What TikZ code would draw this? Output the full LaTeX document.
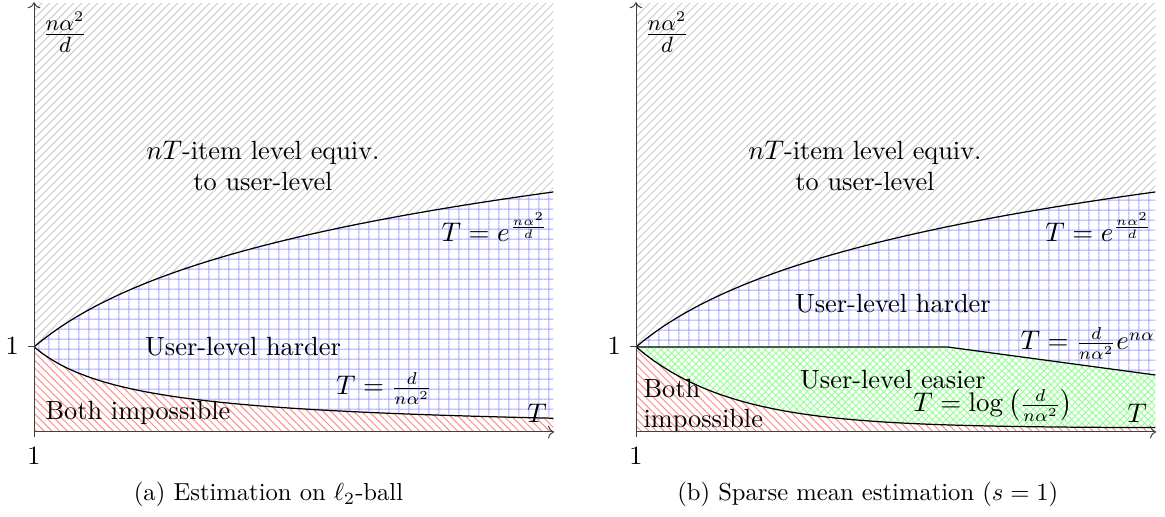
\documentclass[tikz,border=0pt]{standalone}
\usepackage{amsmath,amssymb}
\usetikzlibrary{arrows.meta,patterns.meta,positioning}

\tikzset{
  lbl/.style={inner sep=0pt,font=\fontsize{10.7}{12.3}\selectfont},
  subcap/.style={inner sep=0pt,anchor=base,font=\fontsize{10}{12}\selectfont},
  axis/.style={->,black!75,line width=0.4pt},
  bnd/.style={black,line width=0.5pt},
  equivfill/.style={pattern={Lines[angle=45,distance=2.3pt,line width=0.4pt]},pattern color=gray!40},
  hardfill/.style={pattern={Hatch[angle=0,distance=4pt,line width=0.4pt]},pattern color=blue!35},
  easyfill/.style={pattern={Hatch[angle=45,distance=2pt,line width=0.4pt]},pattern color=green!40},
  impfill/.style={pattern={Lines[angle=-45,distance=2.2pt,line width=0.4pt]},pattern color=red!45}
}

\begin{document}
\begin{tikzpicture}[>=To]
  \useasboundingbox (-0.486,-1.214) rectangle (16.157,6.171);
  % what both panels share
  \foreach \sh/\pn in {0/a,8.6/b} {
    \begin{scope}[xshift=\sh cm]
      \coordinate (o\pn) at (0,0);
      \coordinate (one\pn) at (0,1.215);
      \coordinate (xend\pn) at (7.43,0);
      \coordinate (ytop\pn) at (0,6.14);
      \coordinate (tky\pn) at (-0.086,1.215);
      \coordinate (tkx\pn) at (0,-0.07);
      \fill[equivfill] (one\pn) -- plot[domain=0:7.42,samples=60] (\x,{1.215+1.214*ln(1+0.7*\x)}) -- (7.42,6.13) -- (0,6.13) -- cycle;
      \node[lbl,font=\fontsize{12.4}{14}\selectfont] (ylab\pn) at (0.443,5.714) {$\frac{n\alpha^2}{d}$};
      \node[lbl,align=center] (equiv\pn) at (3.271,3.8) {$nT$-item level equiv.\\to user-level};
      \node[lbl] (yone\pn) at (-0.31,1.229) {1};
      \node[lbl] (xone\pn) at (0,-0.343) {1};
    \end{scope}
  }

  % (a) l2-ball
  \fill[hardfill] plot[domain=0:7.42,samples=60] (\x,{1.215+1.214*ln(1+0.7*\x)}) -- plot[domain=7.42:0,samples=60] (\x,{1.215/(1+0.7*\x)}) -- cycle;
  \fill[impfill] (oa) -- plot[domain=0:7.42,samples=60] (\x,{1.215/(1+0.7*\x)}) -- (7.42,0) -- cycle;
  \draw[bnd] plot[domain=0:7.42,samples=60] (\x,{1.215+1.214*ln(1+0.7*\x)});
  \draw[bnd] plot[domain=0:7.42,samples=60] (\x,{1.215/(1+0.7*\x)});
  \node[lbl,anchor=base] (expa) at (6.586,2.714) {$T = e^{\frac{n\alpha^2}{d}}$};
  \node[lbl,anchor=base] (hardera) at (2.986,1.086) {User-level harder};
  \node[lbl,anchor=base] (hypa) at (5.0,0.529) {$T = \frac{d}{n\alpha^2}$};
  \node[lbl,anchor=base west] (impa) at (0.157,0.171) {Both impossible};
  \node[lbl,anchor=base] (Ta) at (7.186,0.129) {$T$};
  \node[subcap] (capa) at (3.35,-0.986) {(a) Estimation on $\ell_2$-ball};

  % (b) sparse mean
  \begin{scope}[xshift=8.6cm]
    \coordinate (kink) at (4.443,1.215);
    \coordinate (kend) at (7.42,0.814);
    \fill[hardfill] plot[domain=0:7.42,samples=60] (\x,{1.215+1.214*ln(1+0.7*\x)}) -- (kend) -- (kink) -- cycle;
    \fill[easyfill] (oneb) -- (kink) -- (kend) -- plot[domain=7.42:0,samples=60] (\x,{0.057+1.158*exp(-\x/1.36)}) -- cycle;
    \fill[impfill] (ob) -- plot[domain=0:7.42,samples=60] (\x,{0.057+1.158*exp(-\x/1.36)}) -- (7.42,0) -- cycle;
    \draw[bnd] plot[domain=0:7.42,samples=60] (\x,{1.215+1.214*ln(1+0.7*\x)});
    \draw[bnd] (oneb) -- (kink) -- (kend);
    \draw[bnd] plot[domain=0:7.42,samples=60] (\x,{0.057+1.158*exp(-\x/1.36)});
    \node[lbl,anchor=base] (expb) at (6.61,2.714) {$T = e^{\frac{n\alpha^2}{d}}$};
    \node[lbl,anchor=base] (harderb) at (3.67,1.7) {User-level harder};
    \node[lbl,anchor=base west] (hypb) at (5.486,1.171) {$T = \frac{d}{n\alpha^2}e^{n\alpha}$};
    \node[lbl,anchor=base] (easierb) at (3.67,0.62) {User-level easier};
    \node[lbl,anchor=base] (logb) at (5.1,0.286) {$T = \log\left(\frac{d}{n\alpha^2}\right)$};
    \node[lbl,anchor=base west] (bothb) at (0.1,0.486) {Both};
    \node[lbl,anchor=base west] (impb) at (0.1,0.057) {impossible};
    \node[lbl,anchor=base] (Tb) at (7.157,0.129) {$T$};
    \node[subcap] (capb) at (3.31,-0.986) {(b) Sparse mean estimation ($s = 1$)};
  \end{scope}

  % axes on top
  \foreach \pn in {a,b} {
    \draw[axis] (o\pn) -- (xend\pn);
    \draw[axis] (o\pn) -- (ytop\pn);
    \draw[axis,-] (tky\pn) -- (one\pn);
    \draw[axis,-] (tkx\pn) -- (o\pn);
  }
\end{tikzpicture}
\end{document}
